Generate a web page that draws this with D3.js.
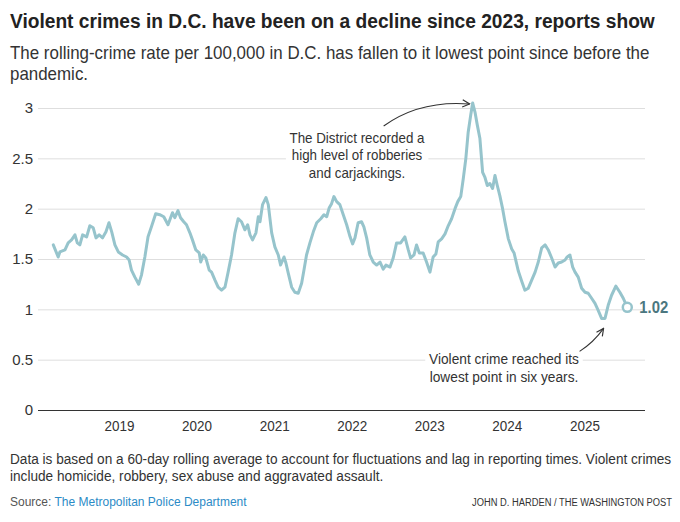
<!DOCTYPE html>
<html>
<head>
<meta charset="utf-8">
<script src="https://cdn.jsdelivr.net/npm/d3@7"></script>
<style>
  body { margin: 0; background: #fff; }
  svg { display: block; font-family: 'Liberation Sans', Arial, sans-serif; }
</style>
</head>
<body>
<svg id="chart"></svg>
<script>
// rolling violent crime rate per 100,000
const dates = [
  '2018-02-26','2018-03-21','2018-03-29','2018-04-22','2018-05-07','2018-05-23','2018-06-08','2018-06-19','2018-07-01','2018-07-14','2018-08-02','2018-08-17','2018-09-02','2018-09-15','2018-09-30','2018-10-16','2018-11-01','2018-11-15','2018-11-28','2018-12-13','2018-12-29',
  '2019-01-18','2019-02-06','2019-02-18','2019-03-01','2019-03-17','2019-04-04','2019-04-17','2019-05-03','2019-05-18','2019-06-03','2019-06-23','2019-07-12','2019-07-31','2019-08-20','2019-09-10','2019-09-21','2019-10-06','2019-10-18','2019-11-02','2019-11-15','2019-12-01','2019-12-13','2019-12-29',
  '2020-01-14','2020-01-21','2020-02-02','2020-02-14','2020-03-01','2020-03-12','2020-03-28','2020-04-12','2020-04-28','2020-05-14','2020-05-29','2020-06-14','2020-06-30','2020-07-15','2020-07-31','2020-08-16','2020-08-29','2020-09-09','2020-09-21','2020-10-07','2020-10-18','2020-10-26','2020-11-07','2020-11-23','2020-12-04','2020-12-20',
  '2021-01-04','2021-01-20','2021-01-31','2021-02-16','2021-02-25','2021-03-08','2021-03-24','2021-04-08','2021-04-24','2021-05-10','2021-05-21','2021-06-02','2021-06-18','2021-07-04','2021-07-20','2021-08-08','2021-08-23','2021-09-05','2021-09-17','2021-09-28','2021-10-09','2021-10-22','2021-11-06','2021-11-22','2021-12-08','2021-12-24',
  '2022-01-05','2022-01-16','2022-01-31','2022-02-16','2022-02-27','2022-03-12','2022-03-27','2022-04-12','2022-04-28','2022-05-14','2022-05-29','2022-06-11','2022-06-30','2022-07-15','2022-07-31','2022-08-19','2022-09-08','2022-09-24','2022-10-05','2022-10-21','2022-11-02','2022-11-15','2022-12-03','2022-12-19',
  '2023-01-04','2023-01-19','2023-02-01','2023-02-12','2023-02-28','2023-03-16','2023-03-31','2023-04-16','2023-05-02','2023-05-15','2023-05-29','2023-06-10','2023-06-22','2023-07-03','2023-07-15','2023-07-24','2023-08-04','2023-08-15','2023-08-27','2023-09-09','2023-09-20','2023-10-01','2023-10-13','2023-10-26','2023-11-06','2023-11-17','2023-11-29','2023-12-12','2023-12-23',
  '2024-01-08','2024-01-24','2024-02-04','2024-02-24','2024-03-11','2024-03-26','2024-04-11','2024-04-27','2024-05-13','2024-05-28','2024-06-13','2024-06-29','2024-07-14','2024-07-30','2024-08-15','2024-08-30','2024-09-15','2024-10-01','2024-10-11','2024-10-24','2024-11-06','2024-11-17','2024-12-02','2024-12-18',
  '2025-01-03','2025-01-18','2025-02-03','2025-02-19','2025-03-06','2025-03-22','2025-04-07','2025-04-22','2025-05-08','2025-05-28','2025-06-16','2025-07-02','2025-07-21'
]
const rates = [
  1.64,1.52,1.57,1.59,1.66,1.69,1.74,1.66,1.64,1.74,1.72,1.83,1.81,1.71,1.74,1.71,1.77,1.86,1.77,1.64,1.57,
  1.54,1.52,1.49,1.39,1.32,1.25,1.34,1.52,1.72,1.82,1.95,1.94,1.92,1.84,1.96,1.91,1.98,1.91,1.87,1.84,1.76,1.69,1.59,
  1.56,1.47,1.54,1.51,1.39,1.37,1.29,1.22,1.19,1.22,1.37,1.54,1.76,1.90,1.87,1.79,1.84,1.74,1.69,1.76,1.92,1.87,2.04,2.11,2.04,1.76,
  1.62,1.54,1.44,1.52,1.46,1.36,1.22,1.17,1.16,1.26,1.39,1.54,1.66,1.77,1.86,1.90,1.94,1.92,2.01,2.05,2.12,2.07,2.04,1.94,1.84,1.72,
  1.65,1.71,1.86,1.87,1.82,1.71,1.54,1.47,1.44,1.47,1.40,1.44,1.42,1.51,1.66,1.66,1.72,1.59,1.51,1.54,1.64,1.56,1.56,1.47,
  1.37,1.52,1.55,1.67,1.70,1.75,1.83,1.90,2.00,2.07,2.12,2.30,2.50,2.76,2.93,3.05,2.96,2.83,2.70,2.36,2.31,2.23,2.25,2.20,2.33,2.23,2.13,2.00,1.87,
  1.70,1.60,1.56,1.38,1.28,1.19,1.21,1.29,1.37,1.47,1.61,1.64,1.59,1.51,1.42,1.46,1.47,1.49,1.52,1.54,1.42,1.37,1.32,1.21,
  1.17,1.16,1.11,1.06,0.99,0.91,0.91,1.04,1.14,1.23,1.17,1.11,1.02
]
const yTicks = [0, 0.5, 1, 1.5, 2, 2.5, 3]
const yearTicks = ['2019','2020','2021','2022','2023','2024','2025']
const subTitle = ['The rolling-crime rate per 100,000 in D.C. has fallen to it lowest point since before the', 'pandemic.']
const peakNote = ['The District recorded a', 'high level of robberies', 'and carjackings.']
const lowNote = ['Violent crime reached its', 'lowest point in six years.']
const footNote = [
  'Data is based on a 60-day rolling average to account for fluctuations and lag in reporting times. Violent crimes',
  'include homicide, robbery, sex abuse and aggravated assault.'
]

const width = 680
const height = 522
const lineColor = '#96c4cc'
const parse = d3.timeParse('%Y-%m-%d')
const data = dates.map((d, i) => ({ date: parse(d), value: rates[i] }))

const svg = d3.select('#chart')
  .attr('width', width)
  .attr('height', height)

// the original font is narrow: scale a text group horizontally around its anchor
// so that its first line spans `target` px
function squeeze(g, textEl, ax, target) {
  const first = textEl.select('tspan').node() || textEl.node()
  const r = Math.min(1, target / first.getComputedTextLength())
  g.attr('transform', `translate(${ax},0) scale(${r},1) translate(${-ax},0)`)
}

function block(lines, x0, y0, lh, size, anchor, target) {
  const g = svg.append('g')
  const t = g.append('text')
    .attr('font-size', size).attr('fill', '#333')
    .attr('text-anchor', anchor || 'start')
  t.selectAll('tspan')
    .data(lines)
    .enter()
    .append('tspan')
    .attr('x', x0)
    .attr('y', (d, i) => y0 + i * lh)
    .text(d => d)
  squeeze(g, t, x0, target)
  return g
}

// titles
const titleG = svg.append('g')
const title = titleG.append('text')
  .attr('x', 10).attr('y', 28)
  .attr('font-size', '20px').attr('font-weight', 'bold').attr('fill', '#222')
  .text('Violent crimes in D.C. have been on a decline since 2023, reports show')
squeeze(titleG, title, 10, 645)

block(subTitle, 10, 59, 21.5, '17.5px', 'start', 640)

// scales
const x = d3.scaleTime()
  .domain([new Date(2018, 0, 1), data[data.length - 1].date])
  .range([41.4, 627.3])
const y = d3.scaleLinear()
  .domain([0, 3])
  .range([410, 108])

const gridRight = 645
const gridLeft = 38

const yAxis = svg.append('g')
  .attr('transform', `translate(${gridRight},0)`)
  .call(d3.axisLeft(y)
    .tickValues(yTicks)
    .tickSize(gridRight - gridLeft)
    .tickPadding(5)
    .tickFormat(d => d))
yAxis.select('.domain').remove()
yAxis.selectAll('.tick line')
  .attr('stroke', d => d === 0 ? '#333' : '#dedede')
yAxis.selectAll('.tick text')
  .attr('font-size', '15px').attr('fill', '#333')
  .attr('font-family', 'inherit')

const xAxis = svg.append('g')
  .attr('transform', `translate(0,${y(0)})`)
  .call(d3.axisBottom(x)
    .tickValues(yearTicks.map(t => parse(t + '-01-01')))
    .tickSize(0)
    .tickPadding(10)
    .tickFormat(d3.timeFormat('%Y')))
xAxis.select('.domain').remove()
xAxis.selectAll('.tick text')
  .attr('font-size', '15px').attr('fill', '#333')
  .attr('font-family', 'inherit')
  .attr('transform', function () { return `scale(${30 / this.getComputedTextLength()},1)` })

// notes, with white boxes so the gridlines break around them
function note(lines, cx, y0, lh, target) {
  const g = block(lines, cx, y0, lh, '14.5px', 'middle', target)
  const b = g.select('text').node().getBBox()
  g.insert('rect', 'text')
    .attr('x', b.x - 4).attr('y', b.y)
    .attr('width', b.width + 8).attr('height', b.height)
    .attr('fill', '#fff')
}

note(peakNote, 357, 143, 17.5, 135)
note(lowNote, 504, 364, 18, 150)

// the line
const line = d3.line()
  .x(d => x(d.date))
  .y(d => y(d.value))

svg.append('path')
  .datum(data)
  .attr('fill', 'none')
  .attr('stroke', lineColor)
  .attr('stroke-width', 3)
  .attr('stroke-linejoin', 'round')
  .attr('stroke-linecap', 'round')
  .attr('d', line)

const last = data[data.length - 1]
svg.append('circle')
  .attr('cx', x(last.date)).attr('cy', y(last.value))
  .attr('r', 4.5)
  .attr('fill', '#fff')
  .attr('stroke', lineColor)
  .attr('stroke-width', 2.5)

const endG = svg.append('g')
const endLabel = endG.append('text')
  .attr('x', x(last.date) + 12).attr('y', y(last.value) + 6)
  .attr('font-size', '17px').attr('font-weight', 'bold').attr('fill', '#4b7780')
  .text(d3.format('.2f')(last.value))
squeeze(endG, endLabel, x(last.date) + 12, 29)

// arrows
svg.append('defs').append('marker')
  .attr('id', 'head')
  .attr('viewBox', '0 0 10 10')
  .attr('refX', 9).attr('refY', 5)
  .attr('markerWidth', 9).attr('markerHeight', 9)
  .attr('markerUnits', 'userSpaceOnUse')
  .attr('orient', 'auto')
  .append('path')
  .attr('d', 'M1,1 L9,5 L1,9')
  .attr('fill', 'none')
  .attr('stroke', '#333')
  .attr('stroke-width', 1.3)

const peak = data.reduce((a, b) => b.value > a.value ? b : a)
const low = data.reduce((a, b) => b.value < a.value ? b : a)

const px = x(peak.date) - 3
const py = y(peak.value) + 1
svg.append('path')
  .attr('d', `M${px - 86},${py + 22} Q${px - 50},${py - 4} ${px},${py}`)
  .attr('fill', 'none').attr('stroke', '#333').attr('stroke-width', 1.1)
  .attr('marker-end', 'url(#head)')

const lx = x(low.date) + 2
const ly = y(low.value) + 10
svg.append('path')
  .attr('d', `M${lx - 24},${ly + 23} Q${lx - 10},${ly + 14} ${lx},${ly}`)
  .attr('fill', 'none').attr('stroke', '#333').attr('stroke-width', 1.1)
  .attr('marker-end', 'url(#head)')

// footer
block(footNote, 10, 464, 17, '14.5px', 'start', 662)

const src = svg.append('text')
  .attr('x', 10).attr('y', 506)
  .attr('font-size', '12px')
src.append('tspan').attr('fill', '#555').text('Source: ')
src.append('tspan').attr('fill', '#2b8bc6').text('The Metropolitan Police Department')

const creditG = svg.append('g')
const credit = creditG.append('text')
  .attr('x', 672).attr('y', 506)
  .attr('text-anchor', 'end')
  .attr('font-size', '11.5px').attr('fill', '#333')
  .text('JOHN D. HARDEN / THE WASHINGTON POST')
squeeze(creditG, credit, 672, 200)
</script>
</body>
</html>
